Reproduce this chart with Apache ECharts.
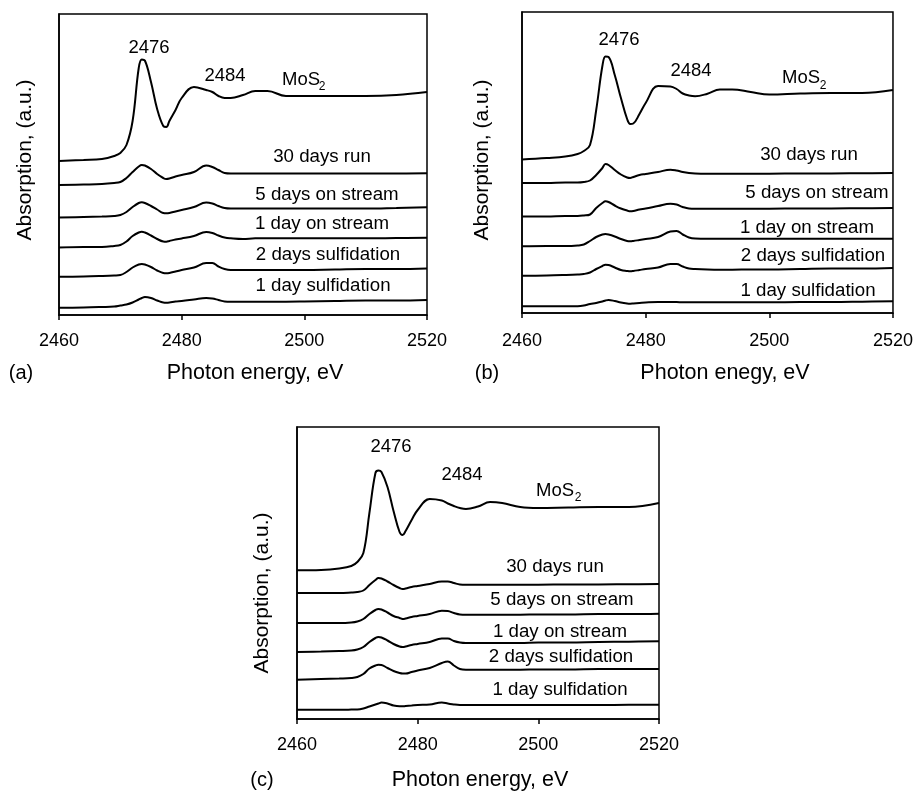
<!DOCTYPE html>
<html>
<head>
<meta charset="utf-8">
<script src="https://cdn.jsdelivr.net/npm/echarts@6/dist/echarts.min.js"></script>
<style>
html,body{margin:0;padding:0;background:#fff;}
#chart{width:916px;height:793px;}
</style>
</head>
<body>
<div id="chart"></div>
<script>
// Photon energy grid (eV)
const energy = [2460, 2464, 2467, 2469, 2470, 2471, 2472, 2473, 2473.5, 2474, 2475, 2476, 2477, 2477.5, 2478, 2479, 2480, 2482, 2484, 2485, 2486, 2487, 2488, 2490, 2492, 2494, 2497, 2500, 2505, 2510, 2515, 2520];
const xTicks = [2460, 2480, 2500, 2520];
const traceNames = ['MoS2', '30 days run', '5 days on stream', '1 day on stream', '2 days sulfidation', '1 day sulfidation'];

// Panel (a) absorption (a.u., stacked offsets)
const aMoS2 = [154, 155, 156, 159, 162, 170, 194, 247, 255.5, 254.5, 233, 206, 189, 188, 194, 205, 217, 228, 225, 223, 219, 217, 217, 220, 224, 224, 219, 219, 219, 219, 220, 223];
const a30d  = [130, 130.5, 131, 132, 133, 137, 143, 148.5, 150, 149.5, 146, 141, 137, 136, 136.5, 138.5, 140, 143, 149.5, 148, 145, 142, 141.5, 141.5, 141.5, 141.5, 141.5, 141.5, 141.5, 141.5, 141.5, 141.7];
const a5d   = [97.5, 98, 98.5, 99, 100, 103, 108, 112, 112.7, 112, 109, 105.5, 102, 101.7, 102, 103.5, 105, 108, 112.5, 111.5, 109, 107, 106.5, 106.5, 106.5, 106.5, 106.5, 106.5, 106.5, 106.5, 107, 107.7];
const a1dS  = [67.5, 68, 68, 69, 70, 73.5, 79, 82.5, 83.3, 82.5, 79.5, 76, 73.5, 73.3, 74, 75.5, 76.5, 79, 83, 82, 79.5, 77.5, 76.7, 76, 76.7, 76.7, 76.7, 76.7, 76.7, 76.7, 77, 77.3];
const a2dF  = [38.3, 38.5, 39, 39.5, 40, 43, 47.5, 50.5, 51, 50.5, 48, 44.5, 42, 41.7, 42, 43.5, 45, 47.5, 52, 52, 48.5, 46, 45, 45, 45, 45, 45, 45, 45.5, 46, 46, 46.5];
const a1dF  = [7.3, 7.5, 8, 8.5, 9.5, 10.5, 12.5, 15.5, 17, 18, 17, 14.5, 12.5, 12.3, 12.5, 13.5, 14, 15.5, 17, 16.5, 15, 13.5, 13.3, 13.3, 13.3, 13.3, 13.3, 13.5, 14, 14.5, 14.5, 15];

// Panel (b)
const bMoS2 = [153.5, 155, 156.5, 159, 162, 168, 203, 247, 256.5, 256, 238, 215, 194, 189, 189.5, 199, 210, 227, 226.5, 224, 219.5, 217.5, 216.7, 219.3, 223.5, 223.5, 221, 218.5, 219.5, 220, 220, 223];
const b30d  = [130, 130, 130.5, 130.5, 131, 132.5, 138, 145, 149, 148, 143, 138.5, 135.5, 135, 136, 138, 139, 141, 143.3, 142.5, 141, 140, 139.5, 139.3, 139.3, 139.3, 139.3, 139.3, 139.5, 139.5, 139.8, 140];
const b5d   = [96.5, 96.5, 97, 97, 97.5, 98.5, 105, 110, 111.7, 111, 107.5, 104.5, 102.5, 101.7, 102, 103.5, 104.5, 107, 109.3, 108.5, 106, 104.5, 104.3, 104.3, 104.3, 104.3, 104.3, 104.3, 104.5, 104.5, 104.8, 105];
const b1dS  = [66.7, 67, 67, 67.5, 68.5, 72, 76, 78.5, 79, 78.5, 76.5, 74, 72, 71.7, 72, 73, 74, 76, 81.5, 82, 78.5, 75.5, 74.5, 74.3, 74.3, 74.3, 74.3, 74.3, 74.3, 74.3, 74.3, 74.3];
const b2dF  = [37.3, 37.5, 38, 38.5, 39, 40.5, 44, 47, 48.3, 48, 45.5, 43, 42, 41.7, 42, 43, 44, 45.5, 49, 49, 46.5, 44.5, 44, 43.5, 43.3, 43.3, 43.5, 43.5, 44, 44.5, 44.5, 45];
const b1dF  = [6.7, 6.7, 6.7, 6.8, 7.5, 9, 10, 11.5, 12.5, 13, 12, 10.5, 9.5, 9.3, 9.5, 10, 10.5, 11, 11, 11, 10.7, 10.7, 10.7, 10.7, 10.7, 10.7, 10.7, 10.7, 11, 11, 11.3, 11.7];

// Panel (c)
const cMoS2 = [148.7, 149, 150.5, 153, 157, 166, 206, 246, 248.5, 247, 232, 208, 187, 184, 188, 199, 209, 220, 218.5, 215.5, 213, 211, 210, 212.5, 217, 216, 212, 211, 211.5, 212, 212, 216];
const c30d  = [126, 126, 126, 126.5, 127, 128.5, 134, 139, 141, 140.5, 137.5, 134, 131, 130, 130.5, 132, 133, 135, 137.5, 137.5, 136, 134.5, 134.3, 134.3, 134.3, 134.3, 134.3, 134.3, 134.5, 134.5, 134.8, 135];
const c5d   = [96, 96, 96, 96.5, 97.5, 100, 105, 109, 110, 109.5, 106.5, 103, 101, 100, 100.5, 102, 103, 105, 108.3, 108, 106, 104.5, 104.3, 104.3, 104.3, 104.3, 104.3, 104.5, 104.5, 105, 105, 105.3];
const c1dS  = [67, 67.5, 68, 68.5, 69.5, 72, 77, 81, 82, 81.5, 78.5, 75, 72.5, 72, 72.5, 74, 75, 77, 80.5, 80.5, 78, 76.5, 76, 76, 76, 76, 76, 76.5, 76.5, 77, 77.3, 77.7];
const c2dF  = [39.3, 40, 40.5, 41, 42, 45, 50.5, 53.5, 54.3, 54, 51, 48, 46, 45.5, 45.5, 47, 48.5, 51, 56, 57.5, 53.5, 50, 49.3, 49.3, 49.3, 49.3, 49.3, 49.5, 49.5, 50, 50, 50];
const c1dF  = [9.3, 9.3, 9.3, 9.4, 9.5, 10.5, 12.5, 14.5, 15.5, 16.5, 15.5, 13.5, 12.7, 12.7, 13, 13.5, 14, 14.5, 16.5, 15.5, 14.5, 14, 14, 14, 14, 14, 14, 14, 14, 14, 14.2, 14.3];

const peakLabels = ['2476', '2484'];
const panelLetters = ['(a)', '(b)', '(c)'];
const xTitles = ['Photon energy, eV', 'Photon enegy, eV', 'Photon energy, eV'];
const yTitle = 'Absorption, (a.u.)';

const FONT = "'Liberation Sans', Arial, Helvetica, sans-serif";
const panels = [
  { data: [aMoS2, a30d, a5d, a1dS, a2dF, a1dF], grid: {left: 59, top: 14, width: 368, height: 301}, ymax: 301, margin: 17,
    peaks: [[149, 48], [225, 76]], mos: [282, 80], sub: [322, 87], labels: [[322,157],[327,195],[322,224],[328,255],[323,286]],
    letter: [21, 373], xt: [255, 373], yt: [25, 160] },
  { data: [bMoS2, b30d, b5d, b1dS, b2dF, b1dF], grid: {left: 522, top: 12, width: 371, height: 301}, ymax: 301, margin: 19,
    peaks: [[619, 40], [691, 71]], mos: [782, 78], sub: [823, 86], labels: [[809,155],[817,193],[807,228],[813,256],[808,291]],
    letter: [487, 373], xt: [725, 373], yt: [482, 160] },
  { data: [cMoS2, c30d, c5d, c1dS, c2dF, c1dF], grid: {left: 297, top: 427, width: 362, height: 292}, ymax: 292, margin: 17,
    peaks: [[391, 447], [462, 475]], mos: [536, 491], sub: [578, 498], labels: [[555,567],[562,600],[560,632],[561,657],[560,690]],
    letter: [262, 780], xt: [480, 780], yt: [262, 593] }
];

const grids = [], xAxes = [], yAxes = [], series = [], graphics = [];
function txt(x, y, text, size, opts) {
  return Object.assign({ type: 'text', x: x, y: y, silent: true,
    style: { text: text, fontSize: size, fontFamily: FONT, fill: '#000', align: 'center', verticalAlign: 'middle' } }, opts || {});
}
panels.forEach(function (p, i) {
  grids.push(Object.assign({ show: true, borderColor: '#000', borderWidth: 1.5, backgroundColor: 'transparent' }, p.grid));
  xAxes.push({ type: 'value', gridIndex: i, min: 2460, max: 2520, interval: 20,
    axisLine: { show: true, lineStyle: { color: '#000', width: 1.5 } },
    axisTick: { show: true, inside: false, length: 5, lineStyle: { color: '#000', width: 1.5 } },
    axisLabel: { color: '#000', fontSize: 18, fontFamily: FONT, margin: p.margin,
      formatter: function (v) { return xTicks.indexOf(v) >= 0 ? String(v) : ''; } },
    splitLine: { show: false } });
  yAxes.push({ type: 'value', gridIndex: i, min: 0, max: p.ymax,
    axisLine: { show: true, lineStyle: { color: '#000', width: 1.5 } },
    axisTick: { show: false }, axisLabel: { show: false }, splitLine: { show: false } });
  p.data.forEach(function (vals, k) {
    series.push({ type: 'line', name: traceNames[k] + ' ' + panelLetters[i], xAxisIndex: i, yAxisIndex: i,
      data: energy.map(function (e, j) { return [e, vals[j]]; }),
      showSymbol: false, smooth: 0.4, silent: true,
      lineStyle: { color: '#000', width: 2 } });
  });
  graphics.push(txt(p.peaks[0][0], p.peaks[0][1], peakLabels[0], 18.5));
  graphics.push(txt(p.peaks[1][0], p.peaks[1][1], peakLabels[1], 18.5));
  graphics.push({ type: 'text', x: p.mos[0], y: p.mos[1], silent: true,
    style: { text: 'MoS', fontSize: 18.5, fontFamily: FONT, fill: '#000', align: 'left', verticalAlign: 'middle' } });
  graphics.push(txt(p.sub[0], p.sub[1], '2', 12));
  p.labels.forEach(function (pos, k) { graphics.push(txt(pos[0], pos[1], traceNames[k + 1], 18.7)); });
  graphics.push(txt(p.letter[0], p.letter[1], panelLetters[i], 20));
  graphics.push(txt(p.xt[0], p.xt[1], xTitles[i], 21.5));
  graphics.push(txt(p.yt[0], p.yt[1], yTitle, 21, { rotation: Math.PI / 2 }));
});

const chart = echarts.init(document.getElementById('chart'), null, { renderer: 'canvas' });
chart.setOption({
  backgroundColor: '#fff',
  animation: false,
  grid: grids,
  xAxis: xAxes,
  yAxis: yAxes,
  series: series,
  graphic: graphics
});
</script>
</body>
</html>
